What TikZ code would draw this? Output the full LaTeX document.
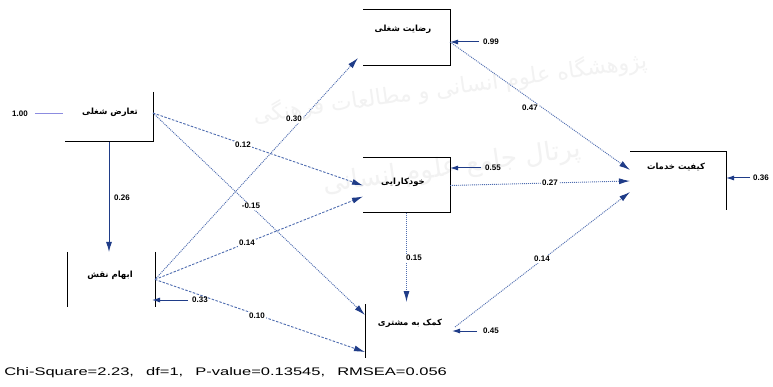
\documentclass[tikz,border=0pt]{standalone}
\usepackage{fontspec}
\setmainfont{Liberation Sans}
\newfontfamily\fa[Script=Arabic]{DejaVu Sans}
\TeXXeTstate=1
\usetikzlibrary{arrows.meta}
\newcommand{\fatext}[1]{{\fa\beginR #1\endR}}
\definecolor{navy}{HTML}{1F3C88}
\definecolor{lblue}{HTML}{4F6DB0}
\definecolor{errl}{HTML}{8C8CE0}
\definecolor{wmgray}{HTML}{F2F2F2}
\tikzset{
  boxshape/.style={minimum width=#1, inner sep=0pt, outer sep=0pt},
  boxtext/.style={inner sep=1pt, font=\fa\bfseries\fontsize{8.5}{10}\selectfont},
  boxline/.style={draw=black, line width=1pt},
  coef/.style={inner sep=1pt, fill=white, font=\bfseries\fontsize{8}{9}\selectfont},
  elabel/.style={inner sep=1pt, font=\bfseries\fontsize{8}{9}\selectfont},
  pdash/.style={draw=lblue, line width=0.9pt, dash pattern=on 2.5pt off 1.5pt, -{Latex[length=11pt,width=6pt,fill=navy,color=navy]}},
  pdot/.style={draw=lblue, line width=0.9pt, dash pattern=on 1pt off 1pt, -{Latex[length=11pt,width=6pt,fill=navy,color=navy]}},
  psolid/.style={draw=navy, line width=1pt, -{Latex[length=10pt,width=6pt]}},
  earrow/.style={draw=navy, line width=1pt, -{Latex[length=8pt,width=5pt]}},
  wmtext/.style={text=wmgray, inner sep=0pt},
}
\begin{document}
\begin{tikzpicture}[x=1pt,y=-1pt]
\useasboundingbox (0,0) rectangle (773,387);
\fill[white] (0,0) rectangle (773,387);
% watermark
\node[wmtext, rotate=8, font=\fa\fontsize{22}{24}\selectfont] (wm1) at (450,88) {\fatext{پژوهشگاه علوم انسانی و مطالعات فرهنگی}};
\node[wmtext, rotate=8, font=\fa\fontsize{26}{28}\selectfont] (wm2) at (452,168) {\fatext{پرتال جامع علوم انسانی}};

% boxes
\node[boxshape=88pt, minimum height=50pt] (conf) at (109,117) {};
\node[boxtext] (conft) at (110,112) {\fatext{تعارض شغلی}};
\draw[boxline] (conf.north east) -- (conf.south east) -- (conf.south west);

\node[boxshape=88pt, minimum height=55pt] (amb) at (111,279.5) {};
\node[boxtext] (ambt) at (110,275) {\fatext{ابهام نقش}};
\draw[boxline] (amb.north west) -- (amb.south west);
\draw[boxline] (amb.north east) -- (amb.south east);

\node[boxshape=87pt, minimum height=56pt] (sat) at (406.5,38) {};
\node[boxtext] (satt) at (403,29) {\fatext{رضایت شغلی}};
\draw[boxline] (sat.north west) -- (sat.north east) -- (sat.south east) -- (sat.south west);

\node[boxshape=87pt, minimum height=55pt] (eff) at (406.5,185.5) {};
\node[boxtext] (efft) at (403,182) {\fatext{خودکارایی}};
\draw[boxline] (eff.north west) -- (eff.north east) -- (eff.south east) -- (eff.south west);

\node[boxshape=90pt, minimum height=54pt] (help) at (410,331) {};
\node[boxtext] (helpt) at (410,323) {\fatext{کمک به مشتری}};
\draw[boxline] (help.north west) -- (help.south west);

\node[boxshape=96pt, minimum height=58pt] (qual) at (678,181) {};
\node[boxtext] (qualt) at (676,167) {\fatext{کیفیت خدمات}};
\draw[boxline] (qual.north west) -- (qual.north east) -- (qual.south east);

% paths
\draw[psolid] (conf.south) -- (conf.south |- amb.north);
\draw[pdash] ([yshift=4pt]conf.east) -- (eff.west);
\draw[pdot] ([yshift=4pt]conf.east) -- ([yshift=16pt]help.west);
\draw[pdot] (amb.east) -- ([xshift=-5pt,yshift=8pt]sat.south west);
\draw[pdash] (amb.east) -- ([yshift=-11pt]eff.west);
\draw[pdash] (amb.east) -- ([yshift=-21pt]help.west);
\draw[pdot] (eff.south) -- ([yshift=2pt]eff.south |- help.north);
\draw[pdot] ([yshift=-4pt]sat.east) -- ([yshift=11pt]qual.west);
\draw[pdot] (eff.east) -- (qual.west);
\draw[pdot] ([yshift=4pt]help.east) -- ([yshift=-11pt]qual.west);

% coefficients
\node[coef] (k1) at (122,198) {0.26};
\node[coef] (k2) at (243,145) {0.12};
\node[coef] (k3) at (251,206) {-0.15};
\node[coef] (k4) at (294,119) {0.30};
\node[coef] (k5) at (247,243) {0.14};
\node[coef] (k6) at (257,316) {0.10};
\node[coef] (k7) at (414,258) {0.15};
\node[coef] (k8) at (530,108) {0.47};
\node[coef] (k9) at (550,183) {0.27};
\node[coef] (k10) at (542,259) {0.14};

% error terms
\node[elabel] (econf) at (20,114) {1.00};
\draw[draw=errl, line width=1pt] ([xshift=6pt]econf.east) -- ([xshift=-2pt]econf.east -| conf.west);
\node[elabel] (eamb) at (200,300) {0.33};
\draw[earrow] ([xshift=-3pt]eamb.west) -- ([xshift=-3pt]eamb.west -| amb.east);
\node[elabel] (esat) at (491,42) {0.99};
\draw[earrow] ([xshift=-3pt]esat.west) -- (esat.west -| sat.east);
\node[elabel] (eeff) at (493,168) {0.55};
\draw[earrow] ([xshift=-3pt]eeff.west) -- (eeff.west -| eff.east);
\node[elabel] (ehelp) at (491,331) {0.45};
\draw[earrow] ([xshift=-5pt]ehelp.west) -- ([xshift=-3pt]ehelp.west -| help.east);
\node[elabel, anchor=west] (equal) at (752,178) {0.36};
\draw[earrow] ([xshift=-2pt]equal.west) -- (equal.west -| qual.east);

% caption
\node[anchor=west, inner sep=0pt, xscale=1.5, font=\fontsize{11}{12}\selectfont] (cap) at (4,373) {Chi-Square=2.23,\hspace{5pt} df=1,\hspace{5pt} P-value=0.13545,\hspace{5pt} RMSEA=0.056};
\end{tikzpicture}
\end{document}
